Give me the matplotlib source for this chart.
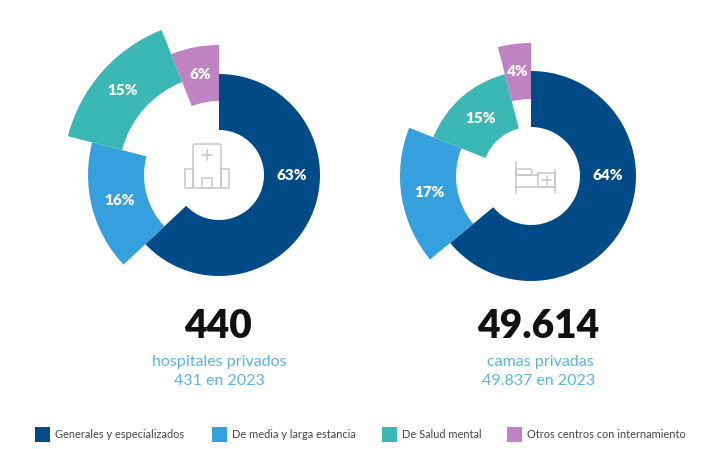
import numpy as np
import matplotlib.pyplot as plt
from matplotlib.patches import Rectangle, FancyBboxPatch

categories = ['Generales y especializados', 'De media y larga estancia',
              'De Salud mental', 'Otros centros con internamiento']
hosp_pct = [63, 16, 15, 6]
camas_pct = [64, 17, 15, 4]
hosp_total, hosp_prev = 440, 431
camas_total, camas_prev = 49614, 49837

colors = ['#004B87', '#35A0DD', '#3BB8B5', '#BF83C3']
W, H = 709, 449
S = 165  # radius of the polar box in px
thick = 56


def fmt(n):
    return f"{n:,}".replace(",", ".")


fig = plt.figure(figsize=(W / 100, H / 100), dpi=100)
ax0 = fig.add_axes([0, 0, 1, 1])
ax0.set_xlim(0, W)
ax0.set_ylim(H, 0)
ax0.axis('off')


def donut(cx, cy, pct, inner):
    ax = fig.add_axes([(cx - S) / W, (H - cy - S) / H, 2 * S / W, 2 * S / H],
                      projection='polar')
    ax.set_theta_zero_location('N')
    ax.set_theta_direction(-1)
    ax.set_ylim(0, S)
    ax.axis('off')
    ax.patch.set_alpha(0)
    frac = np.array(pct) / 100
    start = np.concatenate([[0], np.cumsum(frac)[:-1]]) * 2 * np.pi
    width = frac * 2 * np.pi
    ax.bar(start, [thick] * len(pct), width=width, bottom=inner,
           align='edge', color=colors, edgecolor='none')
    for i, p in enumerate(pct):
        th = start[i] + width[i] / 2
        if i == 0:
            th = np.pi / 2
        ax.text(th, inner[i] + thick / 2, f"{p}%", color='white', fontsize=11,
                fontweight='heavy', family='Lato', ha='center', va='center')
    return ax


donut(219, 175, hosp_pct, [45, 75, 100, 74])
donut(531, 176, camas_pct, [49, 75, 49, 77])

# icons
ic = '#C8C8C8'
lw = 1.1
ax0.add_patch(FancyBboxPatch((193, 144), 28, 44, boxstyle='round,pad=0,rounding_size=2',
                             fill=False, ec=ic, lw=lw))
ax0.add_patch(Rectangle((185, 169), 8, 19, fill=False, ec=ic, lw=lw))
ax0.add_patch(Rectangle((221, 169), 8, 19, fill=False, ec=ic, lw=lw))
ax0.add_patch(Rectangle((202, 178), 10, 10, fill=False, ec=ic, lw=lw))
ax0.plot([202, 212], [155, 155], color=ic, lw=lw)
ax0.plot([207, 207], [150, 160], color=ic, lw=lw)

ax0.plot([516, 516], [162, 193], color=ic, lw=lw)
ax0.plot([555, 555], [170, 193], color=ic, lw=lw)
ax0.plot([516, 555], [187, 187], color=ic, lw=lw)
ax0.plot([516, 538], [175, 175], color=ic, lw=lw)
ax0.add_patch(FancyBboxPatch((516, 169), 16, 6, boxstyle='round,pad=0,rounding_size=2',
                             fill=False, ec=ic, lw=lw))
ax0.add_patch(Rectangle((538, 173), 17, 14, fill=False, ec=ic, lw=lw))
ax0.plot([542, 551], [180, 180], color=ic, lw=lw)
ax0.plot([546.5, 546.5], [175.5, 184.5], color=ic, lw=lw)

# totals
sub = '#5AB4E8'
ax0.text(218, 326, fmt(hosp_total), fontsize=28, fontweight='heavy', family='Lato',
         ha='center', va='center', color='#111111')
ax0.text(219, 362, 'hospitales privados', fontsize=11.5, family='Lato',
         ha='center', va='center', color=sub)
ax0.text(219, 381, f"{fmt(hosp_prev)} en 2023", fontsize=11.5, family='Lato',
         ha='center', va='center', color=sub)
ax0.text(538, 326, fmt(camas_total), fontsize=28, fontweight='heavy', family='Lato',
         ha='center', va='center', color='#111111')
ax0.text(540, 362, 'camas privadas', fontsize=11.5, family='Lato',
         ha='center', va='center', color=sub)
ax0.text(539, 381, f"{fmt(camas_prev)} en 2023", fontsize=11.5, family='Lato',
         ha='center', va='center', color=sub)

# legend
leg_x = [35, 212, 382, 507]
for x, c, lab in zip(leg_x, colors, categories):
    ax0.add_patch(Rectangle((x, 427), 15, 15, color=c, lw=0))
    ax0.text(x + 20, 435, lab, fontsize=7.9, family='Lato', ha='left', va='center',
             color='#444444')

plt.savefig('out.png', dpi=100)
